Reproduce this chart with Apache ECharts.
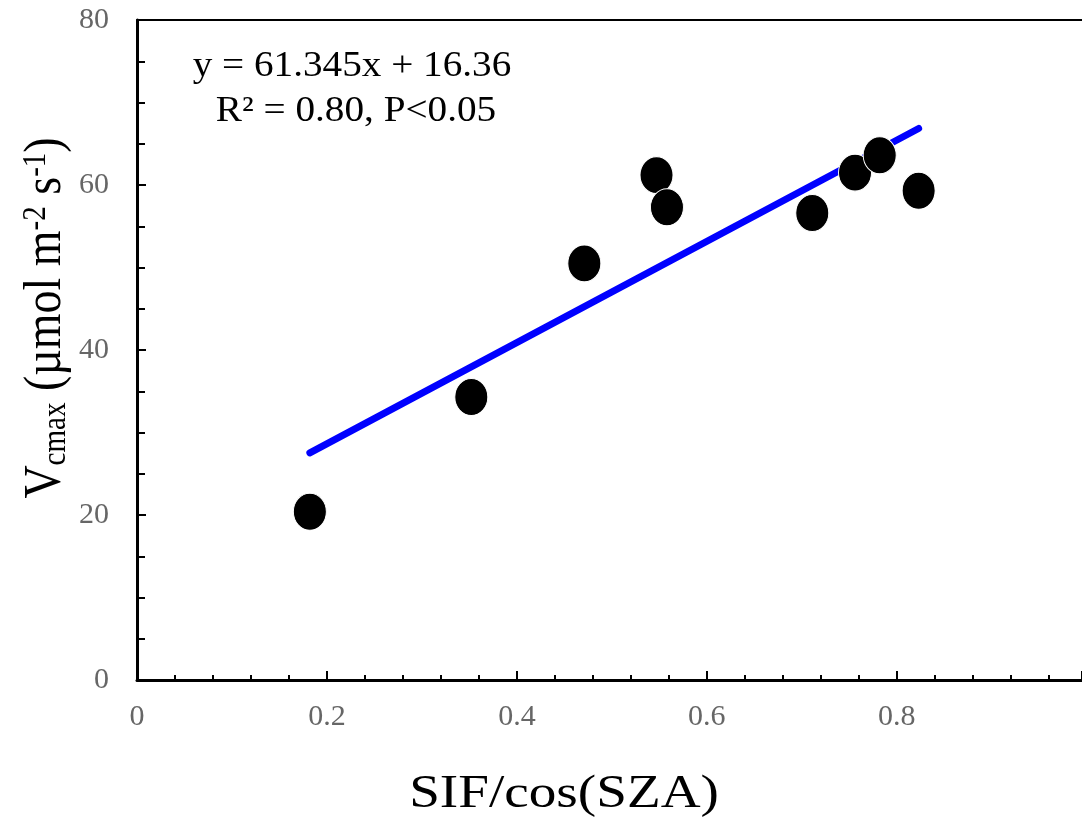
<!DOCTYPE html>
<html>
<head>
<meta charset="utf-8">
<script src="https://cdn.jsdelivr.net/npm/echarts@6/dist/echarts.min.js"></script>
<style>
  html, body { margin: 0; padding: 0; background: #fff; }
  #main { width: 1082px; height: 821px; }
</style>
</head>
<body>
<div id="main"></div>
<script>
// 观测点 SIF/cos(SZA) 与 Vcmax
var sifValues = [0.182, 0.352, 0.471, 0.547, 0.558, 0.711, 0.756, 0.782, 0.823];
var vcmaxValues = [20.4, 34.3, 50.5, 61.2, 57.3, 56.6, 61.5, 63.6, 59.3];
// 拟合线 y = 61.345x + 16.36
var fitSlope = 61.345;
var fitIntercept = 16.36;
var xTickLabels = ['0', '0.2', '0.4', '0.6', '0.8'];

var FONT = "'Liberation Serif', 'Times New Roman', serif";

var points = sifValues.map(function (x, i) { return [x, vcmaxValues[i]]; });
var xMin = Math.min.apply(null, sifValues);
var xMax = Math.max.apply(null, sifValues);
var fitLine = [
  [xMin, fitSlope * xMin + fitIntercept],
  [xMax, fitSlope * xMax + fitIntercept]
];

var myChart = echarts.init(document.getElementById('main'));
var option = {
  animation: false,
  backgroundColor: '#fff',
  grid: { left: 137, right: 0, top: 20, bottom: 141 },
  xAxis: [{
    type: 'value',
    min: 0,
    max: 0.995,
    interval: 0.2,
    splitLine: { show: false },
    axisLine: { lineStyle: { color: '#000', width: 3 } },
    axisTick: { inside: true, length: 9, lineStyle: { color: '#000', width: 2 } },
    minorTick: { show: true, splitNumber: 5, length: 5, lineStyle: { color: '#000', width: 2 } },
    axisLabel: {
      margin: 22,
      color: '#666',
      fontFamily: FONT,
      fontSize: 30,
      showMaxLabel: false,
      formatter: function (v) {
        var idx = Math.round(v / 0.2);
        return xTickLabels[idx] || '';
      }
    }
  }, {
    type: 'value',
    position: 'top',
    min: 0,
    max: 0.995,
    splitLine: { show: false },
    axisLine: { lineStyle: { color: '#000', width: 2 } },
    axisTick: { show: false },
    axisLabel: { show: false }
  }],
  yAxis: {
    type: 'value',
    min: 0,
    max: 80,
    interval: 20,
    splitLine: { show: false },
    axisLine: { lineStyle: { color: '#000', width: 3 } },
    axisTick: { inside: true, length: 9, lineStyle: { color: '#000', width: 2 } },
    minorTick: { show: true, splitNumber: 4, length: 8, lineStyle: { color: '#000', width: 2 } },
    axisLabel: { margin: 28, color: '#666', fontFamily: FONT, fontSize: 30 }
  },
  series: [{
    type: 'line',
    data: fitLine,
    showSymbol: false,
    lineStyle: { color: '#0000ff', width: 7, cap: 'round' },
    z: 2
  }, {
    type: 'scatter',
    data: points,
    symbol: 'circle',
    symbolSize: [33, 37],
    itemStyle: { color: '#000', borderColor: '#fff', borderWidth: 1, opacity: 1 },
    z: 3
  }],
  graphic: [{
    type: 'text',
    x: 352, y: 67,
    scaleX: 1.12,
    style: {
      text: 'y = 61.345x + 16.36',
      font: '35px ' + FONT,
      fill: '#000',
      textAlign: 'center',
      textVerticalAlign: 'middle'
    }
  }, {
    type: 'text',
    x: 356, y: 112,
    scaleX: 1.12,
    style: {
      text: 'R² = 0.80, P<0.05',
      font: '35px ' + FONT,
      fill: '#000',
      textAlign: 'center',
      textVerticalAlign: 'middle'
    }
  }, {
    type: 'text',
    x: 564, y: 795,
    scaleX: 1.2,
    style: {
      text: 'SIF/cos(SZA)',
      font: '46px ' + FONT,
      fill: '#000',
      textAlign: 'center',
      textVerticalAlign: 'middle'
    }
  }, {
    type: 'text',
    x: 46, y: 318,
    rotation: Math.PI / 2,
    scaleY: 1.15,
    style: {
      text: '{b|V}{sub|cmax}{b| (µmol m}{sup|-2}{b| s}{sup|-1}{b|)}',
      fill: '#000',
      textAlign: 'center',
      textVerticalAlign: 'middle',
      rich: {
        b: { fontSize: 46, fontFamily: FONT, fill: '#000', verticalAlign: 'middle' },
        sub: { fontSize: 29, fontFamily: FONT, fill: '#000', verticalAlign: 'bottom' },
        sup: { fontSize: 29, fontFamily: FONT, fill: '#000', verticalAlign: 'top' }
      }
    }
  }]
};
myChart.setOption(option);
</script>
</body>
</html>
